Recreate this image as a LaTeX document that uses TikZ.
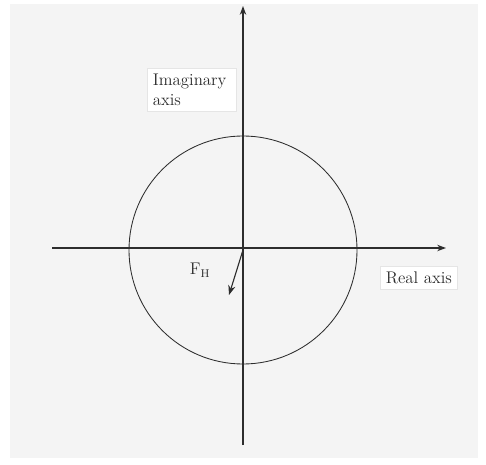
\documentclass[tikz,border=0pt]{standalone}
\usepackage{tikz}
\usetikzlibrary{arrows.meta,calc,positioning}
\definecolor{paper}{RGB}{244,244,244}
\definecolor{ink}{RGB}{45,45,45}
\tikzset{
  tag/.style={fill=white,draw=gray!20,inner sep=4pt,font=\large,text=ink,align=left},
  axisline/.style={thick,ink,-{Stealth[length=2.2mm,width=1.6mm]}}
}
\begin{document}
\begin{tikzpicture}[x=0.025cm,y=-0.025cm,>=Stealth]
% ---------- background ----------
\fill[white] (0,0) rectangle (486,465);
\fill[paper] (10,4) rectangle (478,458);
\useasboundingbox (0,0) rectangle (486,465);
% ---------- axes ----------
\coordinate (O) at (243,250);
\coordinate (xl) at (52,248);
\coordinate (xr) at (446,248);
\coordinate (yb) at (243,445);
\coordinate (yt) at (243,6);
\draw[axisline] (xl) -- (xr);
\draw[axisline] (yb) -- (yt);
% ---------- unit circle ----------
\draw[ink,semithick] (O) circle[radius=114];
% ---------- vector ----------
\coordinate (fh) at (229,295);
\draw[thick,ink,-{Stealth[length=2.4mm,width=1.8mm]}] (O) -- (fh);
% ---------- labels ----------
\node[tag,text width=1.95cm,anchor=north west] (imag) at (147,68) {Imaginary\\axis};
\node[tag,anchor=north west] (real) at (380,266) {Real axis};
\node[font=\large,text=ink] (fhlabel) at (200,270) {F$_{\mathrm{H}}$};
\end{tikzpicture}
\end{document}
